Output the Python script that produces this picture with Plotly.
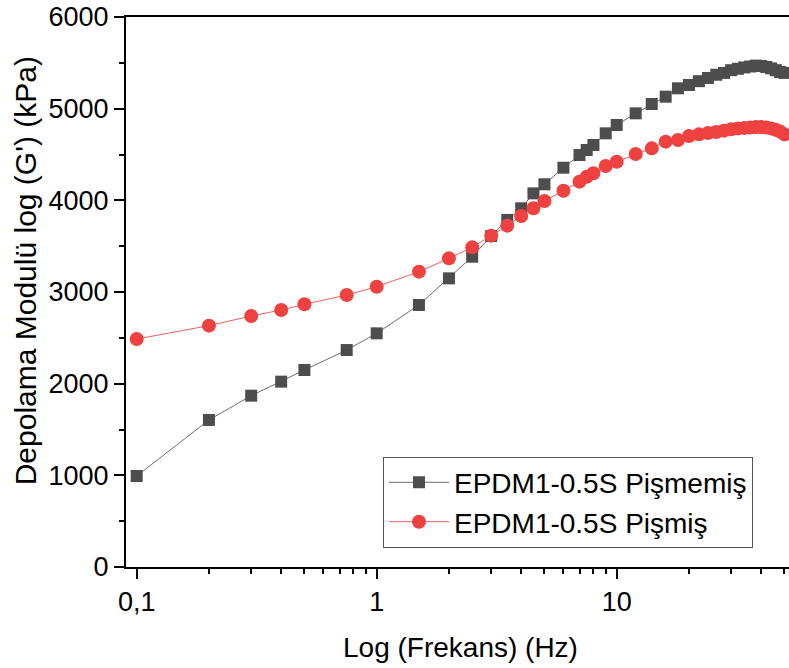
import plotly.graph_objects as go

freq = [0.1, 0.2, 0.3, 0.4, 0.5, 0.75, 1, 1.5, 2, 2.5, 3, 3.5, 4, 4.5, 5, 6, 7, 7.5, 8, 9, 10,
        12, 14, 16, 18, 20, 22, 24, 26, 28, 30, 32, 34, 36, 38, 40, 42, 44, 46, 48, 50]
uncured = [993, 1604, 1869, 2022, 2149, 2367, 2549, 2858, 3149, 3385, 3611, 3786, 3913, 4076, 4175,
           4356, 4494, 4549, 4604, 4731, 4822, 4949, 5051, 5131, 5222, 5258, 5300, 5335, 5370, 5390,
           5420, 5435, 5450, 5460, 5470, 5465, 5455, 5440, 5420, 5400, 5390]
cured = [2487, 2633, 2738, 2804, 2866, 2967, 3058, 3222, 3367, 3487, 3615, 3724, 3829, 3913, 3993,
         4105, 4204, 4258, 4295, 4375, 4421, 4505, 4567, 4640, 4658, 4702, 4720, 4735, 4745, 4760,
         4775, 4785, 4790, 4795, 4800, 4800, 4795, 4785, 4770, 4750, 4720]
names = ["EPDM1-0.5S Pişmemiş", "EPDM1-0.5S Pişmiş"]
x_tickvals = [0.1, 1, 10]
x_ticktext = ["0,1", "1", "10"]
x_minor = [0.2, 0.3, 0.4, 0.5, 0.6, 0.7, 0.8, 0.9, 2, 3, 4, 5, 6, 7, 8, 9, 20, 30, 40, 50]
y_tickvals = [0, 1000, 2000, 3000, 4000, 5000, 6000]

FONT = "Liberation Sans, Arial, sans-serif"

fig = go.Figure()
fig.add_trace(go.Scatter(
    x=freq, y=uncured, name=names[0], mode="lines+markers",
    line=dict(color="#6e6e6e", width=1),
    marker=dict(symbol="square", size=12, color="#4d4d4d"),
))
fig.add_trace(go.Scatter(
    x=freq, y=cured, name=names[1], mode="lines+markers",
    line=dict(color="#f26060", width=1),
    marker=dict(symbol="circle", size=14, color="#f04141"),
))

fig.update_layout(
    width=789, height=668,
    margin=dict(l=126, r=0, t=17, b=101),
    paper_bgcolor="white", plot_bgcolor="white",
    font=dict(family=FONT, size=27, color="black"),
    showlegend=True,
    legend=dict(
        x=0.3876, y=0.118, xanchor="left", yanchor="middle",
        bgcolor="white", bordercolor="#555555", borderwidth=1,
        font=dict(family=FONT, size=28, color="black"),
        tracegroupgap=0, itemwidth=60,
    ),
    xaxis=dict(
        type="log", range=[-1.0445, 1.718],
        tickmode="array", tickvals=x_tickvals, ticktext=x_ticktext,
        ticks="outside", ticklen=10, tickwidth=2, tickcolor="black",
        showline=True, linecolor="black", linewidth=2, mirror=True,
        showgrid=False, zeroline=False,
        tickfont=dict(family=FONT, size=27),
        minor=dict(tickmode="array", tickvals=x_minor, ticks="outside",
                   ticklen=5, tickwidth=2, tickcolor="black", showgrid=False),
    ),
    yaxis=dict(
        range=[0, 6000],
        tickmode="array", tickvals=y_tickvals,
        ticks="outside", ticklen=10, tickwidth=2, tickcolor="black",
        showline=True, linecolor="black", linewidth=2, mirror=False,
        showgrid=False, zeroline=False,
        tickfont=dict(family=FONT, size=27),
        minor=dict(dtick=500, ticks="outside", ticklen=5, tickwidth=2,
                   tickcolor="black", showgrid=False),
    ),
    annotations=[
        dict(text="Log (Frekans) (Hz)", xref="paper", yref="paper",
             x=0.504, y=-0.147, xanchor="center", yanchor="middle",
             showarrow=False, font=dict(family=FONT, size=28)),
        dict(text="Depolama Modulü log (G') (kPa)", xref="paper", yref="paper",
             x=-0.152, y=0.538, xanchor="center", yanchor="middle", textangle=-90,
             showarrow=False, font=dict(family=FONT, size=30)),
    ],
)

fig.write_html("out.html", config={"displayModeBar": False})

with open("out.html", "r", encoding="utf-8") as f:
    html = f.read()
html = html.replace("<head>", "<head><style>html,body{margin:0;padding:0;overflow:hidden;}</style>", 1)
with open("out.html", "w", encoding="utf-8") as f:
    f.write(html)
